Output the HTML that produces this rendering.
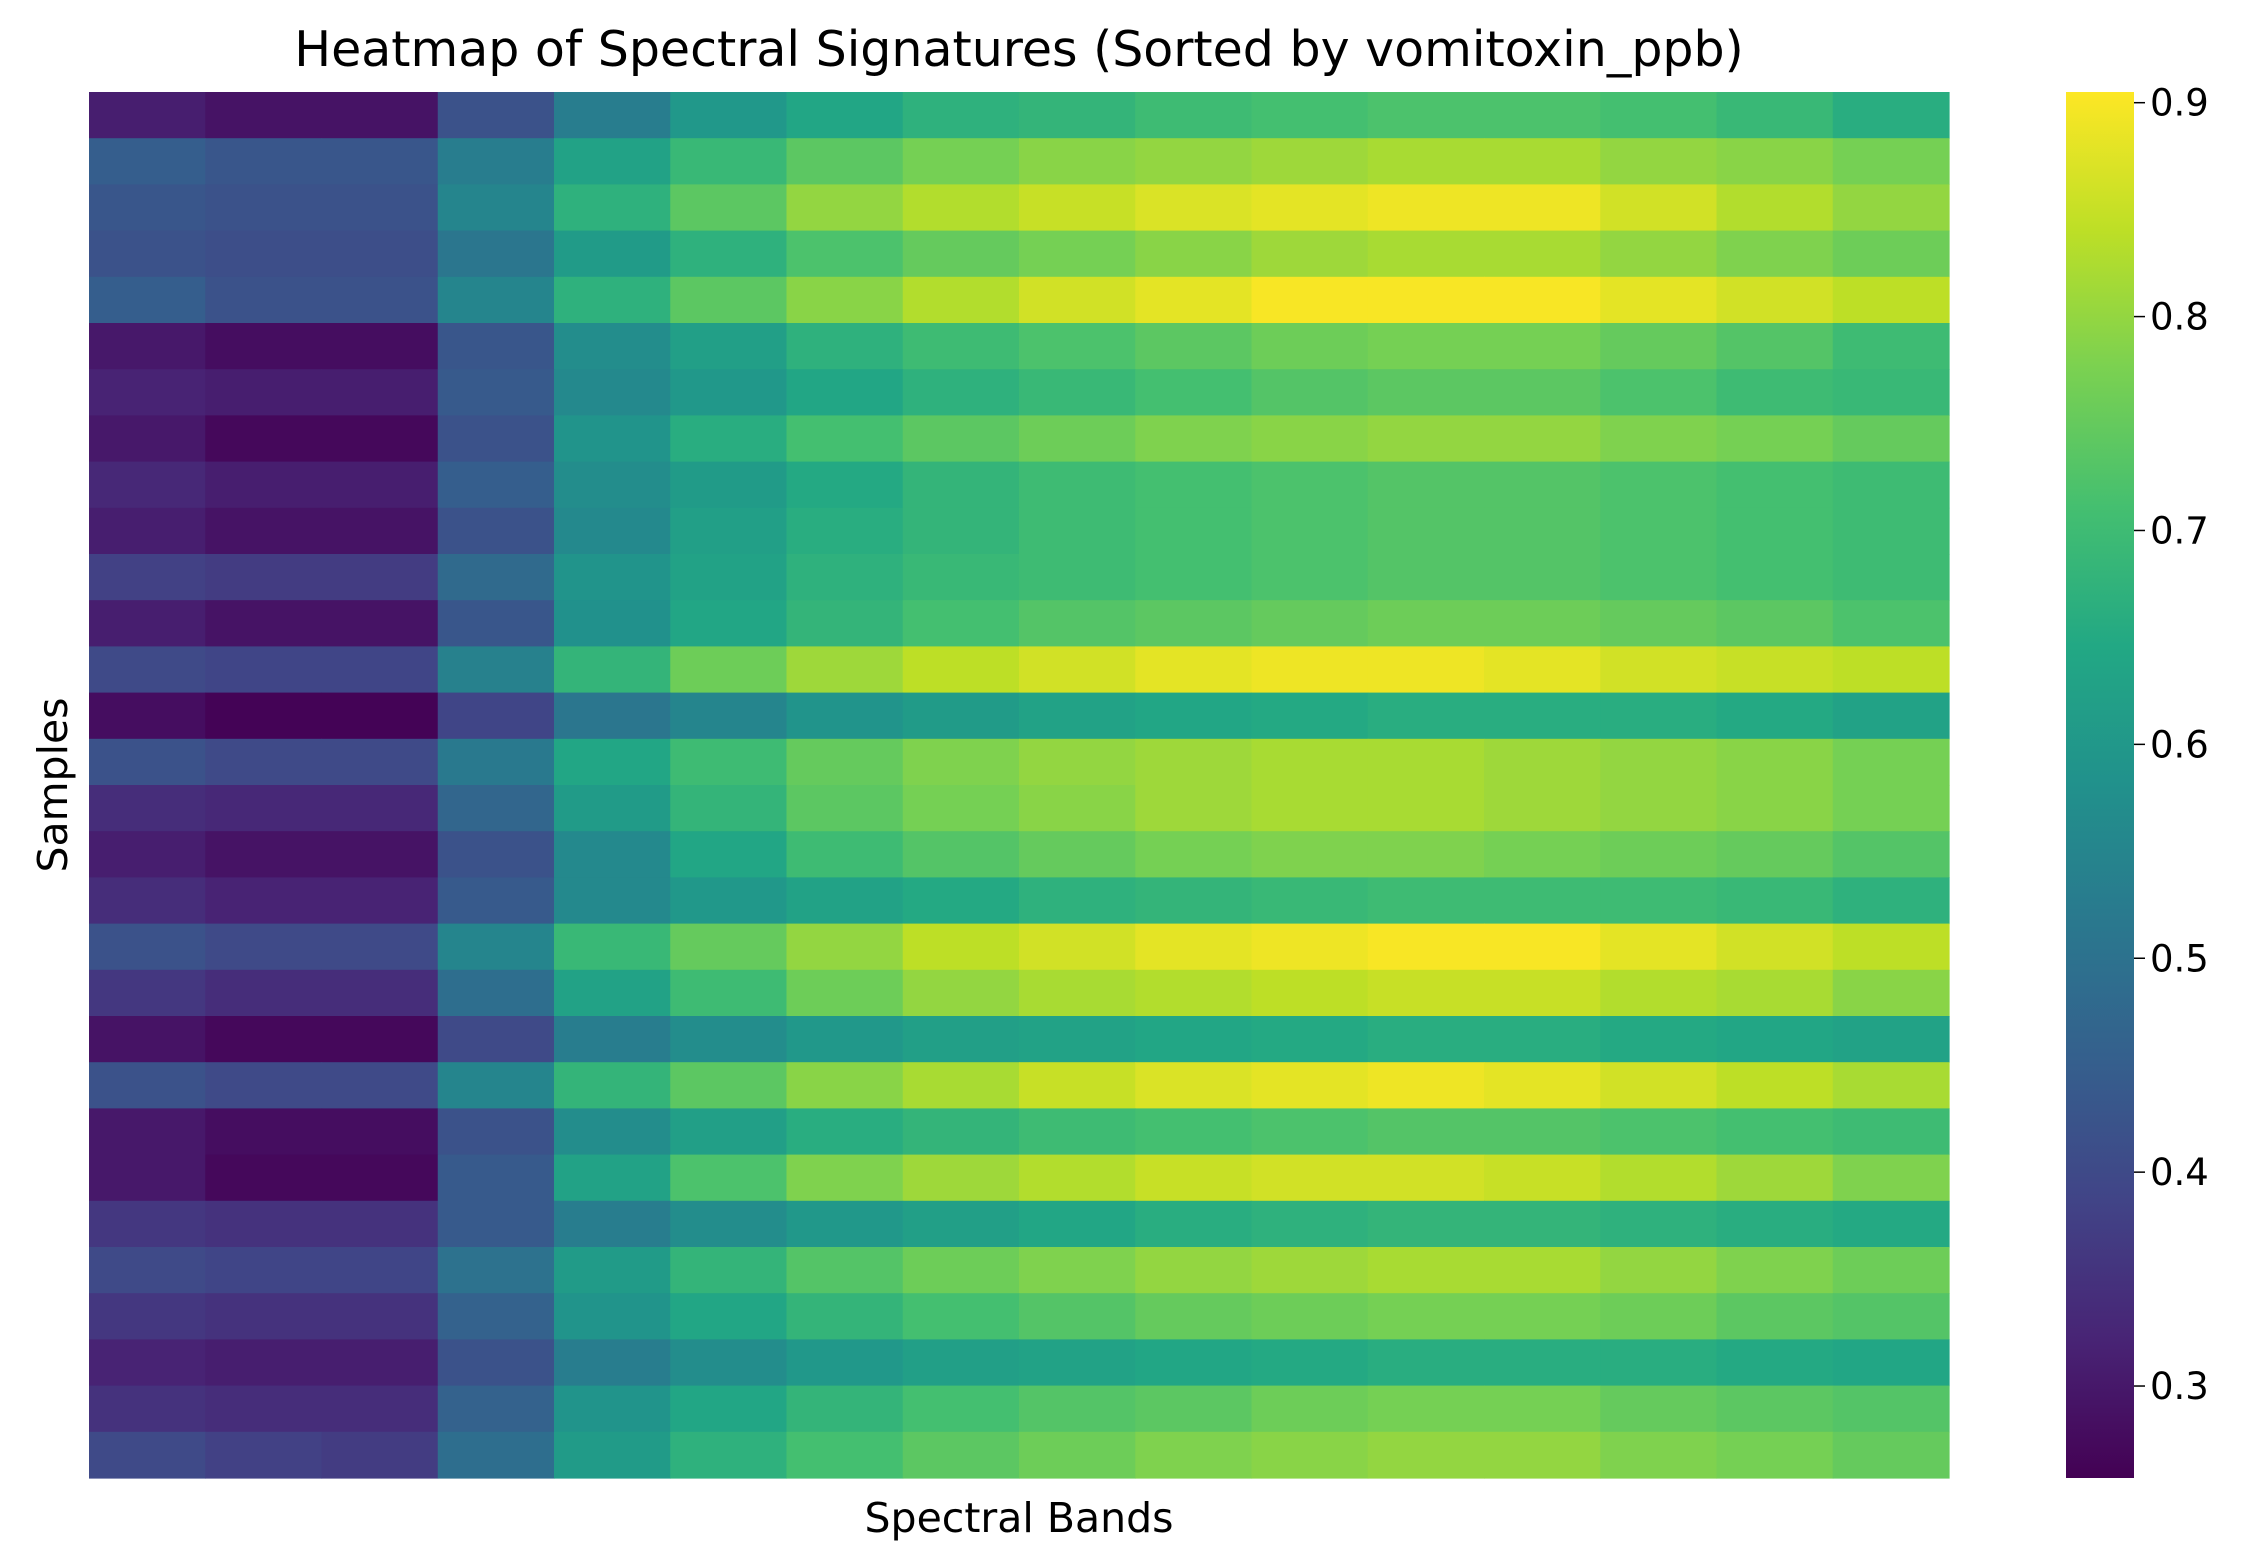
<!DOCTYPE html>
<html><head><meta charset="utf-8"><style>
html,body{margin:0;padding:0;background:#fff;}
svg{display:block;font-family:"DejaVu Sans","Liberation Sans",sans-serif;}
</style></head><body>
<svg id="chart" width="2259" height="1567" viewBox="0 0 2259 1567" xmlns="http://www.w3.org/2000/svg">
<defs><linearGradient id="vir" x1="0" y1="1" x2="0" y2="0"></linearGradient></defs>
<text x="1019" y="66" font-size="49" text-anchor="middle" fill="#000">Heatmap of Spectral Signatures (Sorted by vomitoxin_ppb)</text>
<g id="cells"></g>
<text x="1019" y="1532" font-size="41" text-anchor="middle" fill="#000">Spectral Bands</text>
<text transform="translate(67,785) rotate(-90)" font-size="41" text-anchor="middle" fill="#000">Samples</text>
<rect x="2066" y="92" width="68" height="1386" fill="url(#vir)"/>
<g id="cbticks"></g>
</svg>
<script>
const cbTicks = [0.3,0.4,0.5,0.6,0.7,0.8,0.9];
const vmin = 0.257, vmax = 0.905;
const rows = [
[.31,.29,.29,.42,.53,.6,.64,.67,.68,.7,.71,.72,.72,.71,.69,.66],
[.45,.43,.43,.53,.63,.69,.74,.77,.79,.8,.81,.82,.82,.8,.79,.77],
[.43,.42,.42,.55,.67,.74,.8,.83,.85,.87,.88,.89,.89,.86,.83,.8],
[.42,.41,.41,.51,.61,.67,.72,.75,.77,.79,.81,.82,.82,.8,.78,.76],
[.45,.42,.42,.55,.67,.74,.79,.83,.86,.88,.9,.9,.9,.88,.86,.84],
[.3,.28,.28,.43,.57,.62,.67,.7,.72,.74,.76,.77,.77,.75,.73,.7],
[.32,.31,.31,.44,.56,.6,.64,.67,.69,.71,.73,.74,.74,.72,.7,.69],
[.3,.27,.27,.42,.59,.66,.71,.74,.76,.78,.79,.8,.8,.78,.77,.75],
[.33,.31,.31,.45,.57,.61,.65,.68,.7,.71,.72,.73,.73,.72,.71,.7],
[.31,.29,.29,.42,.56,.62,.66,.68,.7,.71,.72,.73,.73,.72,.71,.7],
[.38,.37,.37,.48,.59,.63,.67,.69,.7,.71,.72,.73,.73,.72,.71,.7],
[.31,.29,.29,.43,.58,.64,.68,.71,.73,.74,.75,.76,.76,.75,.74,.72],
[.4,.39,.39,.54,.68,.76,.81,.84,.86,.88,.89,.89,.88,.86,.85,.84],
[.28,.26,.26,.39,.51,.55,.59,.61,.63,.64,.65,.66,.66,.66,.65,.63],
[.42,.4,.4,.52,.64,.7,.75,.78,.8,.81,.82,.82,.81,.8,.79,.77],
[.34,.33,.33,.47,.61,.68,.74,.77,.79,.81,.82,.82,.81,.8,.79,.77],
[.31,.29,.29,.42,.56,.64,.7,.73,.75,.77,.78,.78,.77,.76,.75,.73],
[.34,.32,.32,.44,.56,.6,.63,.65,.67,.68,.69,.7,.7,.7,.69,.67],
[.42,.4,.4,.55,.69,.75,.8,.84,.86,.88,.89,.9,.9,.88,.86,.84],
[.36,.34,.34,.49,.63,.7,.76,.8,.82,.83,.84,.85,.85,.83,.82,.79],
[.29,.27,.27,.4,.53,.57,.6,.62,.63,.64,.65,.66,.66,.65,.64,.63],
[.42,.4,.4,.55,.68,.74,.79,.82,.85,.87,.88,.89,.88,.86,.84,.82],
[.3,.28,.28,.42,.57,.62,.66,.68,.7,.71,.72,.73,.73,.72,.71,.7],
[.3,.27,.27,.44,.63,.72,.78,.81,.83,.85,.86,.86,.85,.83,.81,.78],
[.36,.35,.35,.44,.53,.57,.6,.62,.64,.66,.67,.68,.68,.67,.66,.65],
[.4,.39,.39,.5,.61,.68,.73,.76,.78,.8,.81,.82,.82,.8,.78,.76],
[.36,.35,.35,.46,.59,.64,.68,.71,.73,.75,.76,.77,.77,.76,.74,.73],
[.32,.31,.31,.42,.53,.57,.6,.62,.63,.64,.65,.66,.66,.66,.65,.64],
[.35,.34,.34,.46,.59,.64,.68,.71,.73,.74,.76,.77,.77,.75,.74,.73],
[.4,.38,.37,.49,.61,.67,.71,.74,.76,.78,.79,.8,.8,.78,.77,.75]
];
const VIR=["#440154","#482475","#414487","#355f8d","#2a788e","#21918c","#22a884","#44bf70","#7ad151","#bddf26","#fde725"];
function hex(h){return [1,3,5].map(i=>parseInt(h.substr(i,2),16));}
function color(v){let t=Math.max(0,Math.min(1,(v-vmin)/(vmax-vmin)))*10;let i=Math.min(9,Math.floor(t)),f=t-i;
 const a=hex(VIR[i]),b=hex(VIR[i+1]);return "rgb("+a.map((c,k)=>Math.round(c+(b[k]-c)*f)).join(",")+")";}
const X0=89,X1=1949,Y0=92,Y1=1478;
const nC=rows[0].length,nR=rows.length;
const xS=j=>X0+(X1-X0)*j/nC, yS=i=>Y0+(Y1-Y0)*i/nR;
const NS="http://www.w3.org/2000/svg";
const g=document.getElementById('cells');
rows.forEach((r,i)=>r.forEach((v,j)=>{
 const el=document.createElementNS(NS,'rect');
 el.setAttribute('x',xS(j));el.setAttribute('y',yS(i));
 el.setAttribute('width',xS(j+1)-xS(j)+0.6);el.setAttribute('height',yS(i+1)-yS(i)+0.6);
 el.setAttribute('fill',color(v));
 
 
 g.appendChild(el);
}));
const grad=document.getElementById('vir');
VIR.forEach((c,k)=>{const s=document.createElementNS(NS,'stop');s.setAttribute('offset',k/10);s.setAttribute('stop-color',c);grad.appendChild(s);});
const cy=v=>Y1-(Y1-Y0)*(v-vmin)/(vmax-vmin);
const tg=document.getElementById('cbticks');
cbTicks.forEach(v=>{
 const l=document.createElementNS(NS,'line');
 l.setAttribute('x1',2134);l.setAttribute('x2',2145);l.setAttribute('y1',cy(v));l.setAttribute('y2',cy(v));
 l.setAttribute('stroke','#000');l.setAttribute('stroke-width',1.5);
 
 
 tg.appendChild(l);
 const t=document.createElementNS(NS,'text');
 t.setAttribute('x',2150);t.setAttribute('y',cy(v)+13);t.setAttribute('font-size',37);
 t.textContent=v.toFixed(1);
 
 
 tg.appendChild(t);
});
</script>
</body></html>
